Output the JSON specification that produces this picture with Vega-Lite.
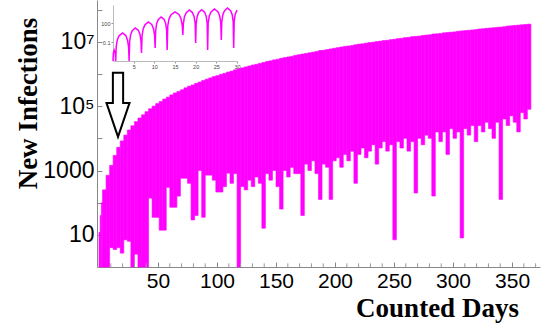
{
  "$schema": "https://vega.github.io/schema/vega-lite/v6.json",
  "width": 443,
  "height": 267,
  "autosize": {"type": "none"},
  "padding": {"left": 97, "top": 0, "right": 6, "bottom": 65},
  "config": {"view": {"stroke": null}},
  "layer": [
    {
      "layer": [
        {
          "data": {"values": [
            {"d0":0,"d1":1,"lo":1,"hi":12},
            {"d0":1,"d1":2,"lo":1,"hi":40},
            {"d0":2,"d1":3,"lo":1,"hi":100},
            {"d0":3,"d1":6,"lo":1,"hi":250},
            {"d0":6,"d1":9,"lo":1,"hi":710},
            {"d0":9,"d1":12,"lo":4,"hi":1450},
            {"d0":12,"d1":15,"lo":3.5,"hi":2950},
            {"d0":15,"d1":18,"lo":4,"hi":5250},
            {"d0":18,"d1":21,"lo":2.7,"hi":8300},
            {"d0":21,"d1":24,"lo":7,"hi":12600},
            {"d0":24,"d1":27,"lo":6.3,"hi":18200},
            {"d0":27,"d1":30,"lo":1,"hi":24500},
            {"d0":30,"d1":33,"lo":2.5,"hi":33100},
            {"d0":33,"d1":36,"lo":1,"hi":42700},
            {"d0":36,"d1":39,"lo":1,"hi":53700},
            {"d0":39,"d1":42,"lo":1,"hi":67600},
            {"d0":42,"d1":45,"lo":138,"hi":83200},
            {"d0":45,"d1":48,"lo":35,"hi":100000},
            {"d0":48,"d1":51,"lo":35,"hi":120000},
            {"d0":51,"d1":54,"lo":14,"hi":141000},
            {"d0":54,"d1":57,"lo":14,"hi":166000},
            {"d0":57,"d1":60,"lo":300,"hi":191000},
            {"d0":60,"d1":63,"lo":72,"hi":224000},
            {"d0":63,"d1":66,"lo":72,"hi":257000},
            {"d0":66,"d1":69,"lo":160,"hi":288000},
            {"d0":69,"d1":72,"lo":575,"hi":324000},
            {"d0":72,"d1":75,"lo":575,"hi":372000},
            {"d0":75,"d1":78,"lo":400,"hi":417000},
            {"d0":78,"d1":81,"lo":29,"hi":457000},
            {"d0":81,"d1":84,"lo":40,"hi":513000},
            {"d0":84,"d1":87,"lo":1000,"hi":562000},
            {"d0":87,"d1":90,"lo":35,"hi":631000},
            {"d0":90,"d1":93,"lo":720,"hi":692000},
            {"d0":93,"d1":96,"lo":720,"hi":759000},
            {"d0":96,"d1":99,"lo":500,"hi":832000},
            {"d0":99,"d1":102,"lo":214,"hi":891000},
            {"d0":102,"d1":105,"lo":214,"hi":977000},
            {"d0":105,"d1":108,"lo":316,"hi":1050000},
            {"d0":108,"d1":111,"lo":830,"hi":1150000},
            {"d0":111,"d1":114,"lo":400,"hi":1230000},
            {"d0":114,"d1":117,"lo":800,"hi":1350000},
            {"d0":117,"d1":120,"lo":1,"hi":1450000},
            {"d0":120,"d1":123,"lo":316,"hi":1550000},
            {"d0":123,"d1":126,"lo":250,"hi":1660000},
            {"d0":126,"d1":129,"lo":500,"hi":1780000},
            {"d0":129,"d1":132,"lo":316,"hi":1910000},
            {"d0":132,"d1":135,"lo":630,"hi":2000000},
            {"d0":135,"d1":138,"lo":400,"hi":2140000},
            {"d0":138,"d1":141,"lo":16,"hi":2290000},
            {"d0":141,"d1":144,"lo":800,"hi":2450000},
            {"d0":144,"d1":147,"lo":500,"hi":2570000},
            {"d0":147,"d1":150,"lo":1000,"hi":2750000},
            {"d0":150,"d1":153,"lo":316,"hi":2880000},
            {"d0":153,"d1":156,"lo":63,"hi":3090000},
            {"d0":156,"d1":159,"lo":1000,"hi":3240000},
            {"d0":159,"d1":162,"lo":630,"hi":3390000},
            {"d0":162,"d1":165,"lo":1260,"hi":3550000},
            {"d0":165,"d1":168,"lo":800,"hi":3800000},
            {"d0":168,"d1":171,"lo":800,"hi":3980000},
            {"d0":171,"d1":174,"lo":40,"hi":4170000},
            {"d0":174,"d1":177,"lo":1580,"hi":4370000},
            {"d0":177,"d1":180,"lo":1000,"hi":4570000},
            {"d0":180,"d1":183,"lo":2000,"hi":4790000},
            {"d0":183,"d1":186,"lo":800,"hi":5010000},
            {"d0":186,"d1":189,"lo":126,"hi":5370000},
            {"d0":189,"d1":192,"lo":1580,"hi":5500000},
            {"d0":192,"d1":195,"lo":1260,"hi":5750000},
            {"d0":195,"d1":198,"lo":126,"hi":6030000},
            {"d0":198,"d1":201,"lo":2000,"hi":6310000},
            {"d0":201,"d1":204,"lo":2500,"hi":6610000},
            {"d0":204,"d1":207,"lo":1260,"hi":6920000},
            {"d0":207,"d1":210,"lo":3160,"hi":7240000},
            {"d0":210,"d1":213,"lo":2000,"hi":7410000},
            {"d0":213,"d1":216,"lo":4000,"hi":7760000},
            {"d0":216,"d1":219,"lo":400,"hi":8130000},
            {"d0":219,"d1":222,"lo":3160,"hi":8510000},
            {"d0":222,"d1":225,"lo":5000,"hi":8710000},
            {"d0":225,"d1":228,"lo":2500,"hi":9120000},
            {"d0":228,"d1":231,"lo":4000,"hi":9550000},
            {"d0":231,"d1":234,"lo":6300,"hi":9770000},
            {"d0":234,"d1":237,"lo":1580,"hi":10200000},
            {"d0":237,"d1":240,"lo":5000,"hi":10500000},
            {"d0":240,"d1":243,"lo":7900,"hi":11000000},
            {"d0":243,"d1":246,"lo":4000,"hi":11200000},
            {"d0":246,"d1":249,"lo":6300,"hi":11700000},
            {"d0":249,"d1":252,"lo":7,"hi":12000000},
            {"d0":252,"d1":255,"lo":7900,"hi":12600000},
            {"d0":255,"d1":258,"lo":5000,"hi":12900000},
            {"d0":258,"d1":261,"lo":10000,"hi":13500000},
            {"d0":261,"d1":264,"lo":4000,"hi":13800000},
            {"d0":264,"d1":267,"lo":7900,"hi":14500000},
            {"d0":267,"d1":270,"lo":200,"hi":14800000},
            {"d0":270,"d1":273,"lo":10000,"hi":15100000},
            {"d0":273,"d1":276,"lo":6300,"hi":15800000},
            {"d0":276,"d1":279,"lo":12600,"hi":16200000},
            {"d0":279,"d1":282,"lo":10000,"hi":16600000},
            {"d0":282,"d1":285,"lo":160,"hi":17400000},
            {"d0":285,"d1":288,"lo":15800,"hi":17800000},
            {"d0":288,"d1":291,"lo":7900,"hi":18200000},
            {"d0":291,"d1":294,"lo":15800,"hi":19100000},
            {"d0":294,"d1":297,"lo":3160,"hi":19500000},
            {"d0":297,"d1":300,"lo":20000,"hi":20000000},
            {"d0":300,"d1":303,"lo":10000,"hi":20400000},
            {"d0":303,"d1":306,"lo":15800,"hi":21400000},
            {"d0":306,"d1":309,"lo":8,"hi":21900000},
            {"d0":309,"d1":312,"lo":20000,"hi":22400000},
            {"d0":312,"d1":315,"lo":12600,"hi":22900000},
            {"d0":315,"d1":318,"lo":25000,"hi":23400000},
            {"d0":318,"d1":321,"lo":7900,"hi":24000000},
            {"d0":321,"d1":324,"lo":25000,"hi":25100000},
            {"d0":324,"d1":327,"lo":15800,"hi":25700000},
            {"d0":327,"d1":330,"lo":31600,"hi":26300000},
            {"d0":330,"d1":333,"lo":20000,"hi":26900000},
            {"d0":333,"d1":336,"lo":10000,"hi":27500000},
            {"d0":336,"d1":339,"lo":31600,"hi":28200000},
            {"d0":339,"d1":342,"lo":126,"hi":28800000},
            {"d0":342,"d1":345,"lo":40000,"hi":29500000},
            {"d0":345,"d1":348,"lo":25000,"hi":30900000},
            {"d0":348,"d1":351,"lo":50000,"hi":31600000},
            {"d0":351,"d1":354,"lo":31600,"hi":32400000},
            {"d0":354,"d1":357,"lo":15800,"hi":33100000},
            {"d0":357,"d1":360,"lo":63000,"hi":33900000},
            {"d0":360,"d1":363,"lo":40000,"hi":34700000},
            {"d0":363,"d1":366,"lo":80000,"hi":35500000}
          ]},
          "mark": {"type": "rect", "color": "#ff00ff", "stroke": "#ff00ff", "strokeWidth": 0.6},
          "encoding": {
            "x": {
              "field": "d0", "type": "quantitative",
              "scale": {"domain": [-1.7, 373.7], "nice": false, "zero": false},
              "axis": {
                "orient": "bottom",
                "values": [50,100,150,200,250,300,350],
                "labelOverlap": false,
                "labelFlush": false,
                "grid": false,
                "tickSize": -5,
                "tickColor": "#888888",
                "domainColor": "#888888",
                "labelFont": "Liberation Sans",
                "labelFontSize": 21,
                "labelColor": "#000000",
                "labelPadding": 8,
                "title": "Counted Days",
                "titleFont": "Liberation Serif",
                "titleFontSize": 27,
                "titleFontWeight": "bold",
                "titleColor": "#000000",
                "titleX": 340,
                "titleY": 49,
                "titleAlign": "center",
                "titleBaseline": "alphabetic"
              }
            },
            "x2": {"field": "d1"},
            "y": {
              "field": "lo", "type": "quantitative",
              "scale": {"type": "log", "domain": [1, 200000000], "nice": false},
              "axis": {
                "orient": "left",
                "values": [10,100,1000,10000,100000,1000000,10000000,100000000],
                "labelExpr": "datum.value == 10000000 ? '10⁷' : datum.value == 100000 ? '10⁵' : datum.value == 1000 ? '1000' : datum.value == 10 ? '10' : ''",
                "labelOverlap": false,
                "labelFlush": false,
                "grid": false,
                "tickSize": -5,
                "tickColor": "#888888",
                "domainColor": "#888888",
                "labelFont": "Liberation Sans",
                "labelFontSize": 23,
                "labelColor": "#000000",
                "labelPadding": 8,
                "title": "New Infections",
                "titleFont": "Liberation Serif",
                "titleFontSize": 27,
                "titleFontWeight": "bold",
                "titleColor": "#000000",
                "titleAngle": -90,
                "titleX": -61,
                "titleY": 103,
                "titleAlign": "center",
                "titleBaseline": "alphabetic"
              }
            },
            "y2": {"field": "hi"}
          }
        },
        {
          "data": {"values": [
            {"d0":10},{"d0":20},{"d0":30},{"d0":40},{"d0":60},{"d0":70},{"d0":80},{"d0":90},
            {"d0":110},{"d0":120},{"d0":130},{"d0":140},{"d0":160},{"d0":170},{"d0":180},{"d0":190},
            {"d0":210},{"d0":220},{"d0":230},{"d0":240},{"d0":260},{"d0":270},{"d0":280},{"d0":290},
            {"d0":310},{"d0":320},{"d0":330},{"d0":340},{"d0":360},{"d0":370}
          ]},
          "mark": {"type": "rule", "color": "#999999", "strokeWidth": 1},
          "encoding": {
            "x": {"field": "d0", "type": "quantitative"},
            "y": {"datum": 1},
            "y2": {"datum": 1.3}
          }
        },
        {
          "data": {"values": [{"d0": 16.1, "lo": 110000}]},
          "mark": {"type": "point", "shape": "M-0.16,-1L0.16,-1L0.16,-0.06L0.36,-0.06L0,1L-0.36,-0.06L-0.16,-0.06Z", "filled": false, "stroke": "#000000", "strokeWidth": 2, "size": 4096, "opacity": 1},
          "encoding": {
            "x": {"field": "d0", "type": "quantitative"},
            "y": {"field": "lo", "type": "quantitative"}
          }
        }
      ]
    },
    {
      "data": {"values": [
        {"d":0.0,"v":0.0001},{"d":0.08,"v":0.0016},{"d":0.3,"v":0.005},{"d":0.55,"v":0.0016},{"d":0.65,"v":0.0001},
        {"d":0.78,"v":0.018},{"d":1.04,"v":0.22},{"d":1.46,"v":1},{"d":2.3,"v":2.8},{"d":3.1,"v":1.1},{"d":3.5,"v":0.22},{"d":3.77,"v":0.018},{"d":3.9,"v":0.0001},
        {"d":4.02,"v":0.11},{"d":4.26,"v":1.4},{"d":4.65,"v":6.3},{"d":5.4,"v":18},{"d":6.15,"v":7.1},{"d":6.54,"v":1.6},{"d":6.78,"v":0.13},{"d":6.9,"v":0.0019},
        {"d":7.03,"v":1},{"d":7.3,"v":12.6},{"d":7.73,"v":56},{"d":8.55,"v":160},{"d":9.37,"v":63},{"d":9.8,"v":14},{"d":10.07,"v":1.1},{"d":10.2,"v":0.012},
        {"d":10.32,"v":6.3},{"d":10.55,"v":79},{"d":10.93,"v":355},{"d":11.65,"v":1000},{"d":12.37,"v":400},{"d":12.75,"v":89},{"d":12.98,"v":7.1},{"d":13.1,"v":0.0056},
        {"d":13.25,"v":40},{"d":13.56,"v":500},{"d":14.05,"v":2240},{"d":15.0,"v":6170},{"d":15.95,"v":2510},{"d":16.44,"v":560},{"d":16.75,"v":45},{"d":16.9,"v":1.35},
        {"d":17.02,"v":79},{"d":17.27,"v":1000},{"d":17.68,"v":4470},{"d":18.45,"v":12600},{"d":19.22,"v":5010},{"d":19.63,"v":1120},{"d":19.88,"v":89},{"d":20.0,"v":0.072},
        {"d":20.12,"v":89},{"d":20.35,"v":1120},{"d":20.73,"v":5010},{"d":21.45,"v":14100},{"d":22.17,"v":5620},{"d":22.55,"v":1260},{"d":22.78,"v":100},{"d":22.9,"v":0.0056},
        {"d":23.03,"v":112},{"d":23.3,"v":1410},{"d":23.73,"v":6310},{"d":24.55,"v":18600},{"d":25.37,"v":7080},{"d":25.8,"v":1580},{"d":26.07,"v":126},{"d":26.2,"v":0.22},
        {"d":26.32,"v":160},{"d":26.56,"v":2000},{"d":26.95,"v":8910},{"d":27.7,"v":26900},{"d":28.45,"v":10000},{"d":28.84,"v":2240},{"d":29.08,"v":178},{"d":29.2,"v":0.012},
        {"d":29.32,"v":200},{"d":29.56,"v":2510},{"d":30.0,"v":12600}
      ]},
      "mark": {"type": "line", "color": "#ff00ff", "strokeWidth": 1.5},
      "encoding": {
        "x": {
          "field": "d", "type": "quantitative",
          "scale": {"domain": [0, 30], "range": [16, 140], "nice": false, "zero": false},
          "axis": {
            "orient": "bottom", "offset": -206,
            "values": [5,10,15,20,25,30],
            "grid": false, "title": null,
            "tickSize": 2, "tickColor": "#999999", "domainColor": "#bbbbbb",
            "labelFont": "Liberation Sans", "labelFontSize": 5.5, "labelColor": "#444444",
            "labelPadding": 1, "labelFlush": false, "labelOverlap": false
          }
        },
        "y": {
          "field": "v", "type": "quantitative",
          "scale": {"type": "log", "domain": [0.0001, 79400], "range": [61, 5], "nice": false},
          "axis": {
            "orient": "left", "offset": -16,
            "values": [0.1, 100],
            "labelExpr": "datum.value < 1 ? '0.1' : '100'",
            "grid": false, "title": null,
            "tickSize": 2, "tickColor": "#999999", "domainColor": "#bbbbbb",
            "labelFont": "Liberation Sans", "labelFontSize": 5.5, "labelColor": "#444444",
            "labelPadding": 1, "labelFlush": false, "labelOverlap": false
          }
        }
      }
    }
  ],
  "resolve": {
    "scale": {"x": "independent", "y": "independent"},
    "axis": {"x": "independent", "y": "independent"}
  }
}
